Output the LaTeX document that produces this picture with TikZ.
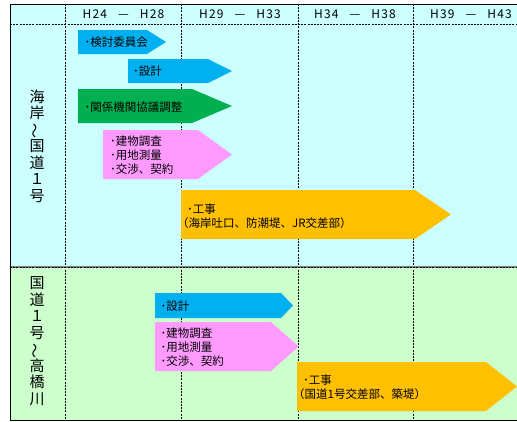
\documentclass[tikz,border=0pt]{standalone}
\usepackage{fontspec}
\setmainfont{Noto Sans CJK JP}
\newfontfamily\hdrfont[LetterSpace=10]{Noto Sans CJK JP}
\definecolor{cyanbg}{HTML}{CCFFFF}
\definecolor{greenbg}{HTML}{CCFFCC}
\definecolor{blueA}{HTML}{00B0F0}
\definecolor{greenA}{HTML}{00B050}
\definecolor{pinkA}{HTML}{FF9BFF}
\definecolor{orangeA}{HTML}{FFC000}
\begin{document}
\begin{tikzpicture}[x=1pt,y=-1pt,
  gridline/.style={black, line width=0.6pt, dash pattern=on 2pt off 1.2pt},
  lbl/.style={anchor=west, inner sep=0pt, font=\fontsize{11.5}{14}\selectfont, align=left},
  hdr/.style={inner sep=0pt, font=\hdrfont\fontsize{12}{14}\selectfont},
  side/.style={inner sep=0pt, align=center, font=\fontsize{15}{16.5}\selectfont}]
\useasboundingbox (0,0) rectangle (517,421);
% backgrounds
\fill[cyanbg] (10,4) rectangle (517,267);
\fill[greenbg] (10,267) rectangle (517,420);
% grid
\draw[gridline] (10,24) -- (517,24);
\foreach \gx in {65,181,298,413} {\draw[gridline] (\gx,4) -- (\gx,420);}
\draw[gray, line width=1.4pt] (10,267) -- (517,267);
\draw[gridline] (10,267) -- (517,267);
\draw[black, line width=0.9pt] (517,4) -- (10,4) -- (10,420) -- (517,420);
% headers
\node[hdr] (h1) at (123.5,14) {H24\hspace{11pt}—\hspace{11pt}H28};
\node[hdr] (h2) at (240,14) {H29\hspace{11pt}—\hspace{11pt}H33};
\node[hdr] (h3) at (355,14) {H34\hspace{11pt}—\hspace{11pt}H38};
\node[hdr] (h4) at (471,14) {H39\hspace{11pt}—\hspace{11pt}H43};
% side labels
\node[side] (s1) at (37,146) {海\\岸\\\rotatebox[origin=c]{90}{～}\\国\\道\\１\\号};
\node[side] (s2) at (37,341) {国\\道\\１\\号\\\rotatebox[origin=c]{90}{～}\\高\\橋\\川};
% upper section
\fill[blueA] (78,30) -- (147,30) -- (166,42) -- (147,54) -- (78,54) -- cycle;
\node[lbl] (a1) at (84.5,42) {･検討委員会};
\fill[blueA] (128,59) -- (208,59) -- (232,71) -- (208,83) -- (128,83) -- cycle;
\node[lbl] (a2) at (133,71) {･設計};
\fill[greenA] (78,89) -- (192,89) -- (232,106) -- (192,123) -- (78,123) -- cycle;
\node[lbl] (a3) at (84.5,107.5) {･関係機関協議調整};
\fill[pinkA] (103,130) -- (198,130) -- (232,154.5) -- (198,179) -- (103,179) -- cycle;
\node[lbl] (a4) at (110,155) {･建物調査\\･用地測量\\･交渉、契約};
\fill[orangeA] (181,190) -- (415,190) -- (451,214.5) -- (415,239) -- (181,239) -- cycle;
\node[lbl] (a5) at (187,216) {･工事\\\hspace*{-10pt}（海岸吐口、防潮堤、JR交差部）};
% lower section
\fill[blueA] (155,293) -- (281,293) -- (293,305.5) -- (281,318) -- (155,318) -- cycle;
\node[lbl] (b1) at (160.5,306) {･設計};
\fill[pinkA] (155,322) -- (271,322) -- (298.7,346.5) -- (271,371) -- (155,371) -- cycle;
\node[lbl] (b2) at (160.5,347) {･建物調査\\･用地測量\\･交渉、契約};
\fill[orangeA] (297,362) -- (486,362) -- (517,386.5) -- (486,411) -- (297,411) -- cycle;
\node[lbl] (b3) at (303,387) {･工事\\\hspace*{-10pt}（国道1号交差部、築堤）};
\end{tikzpicture}
\end{document}
